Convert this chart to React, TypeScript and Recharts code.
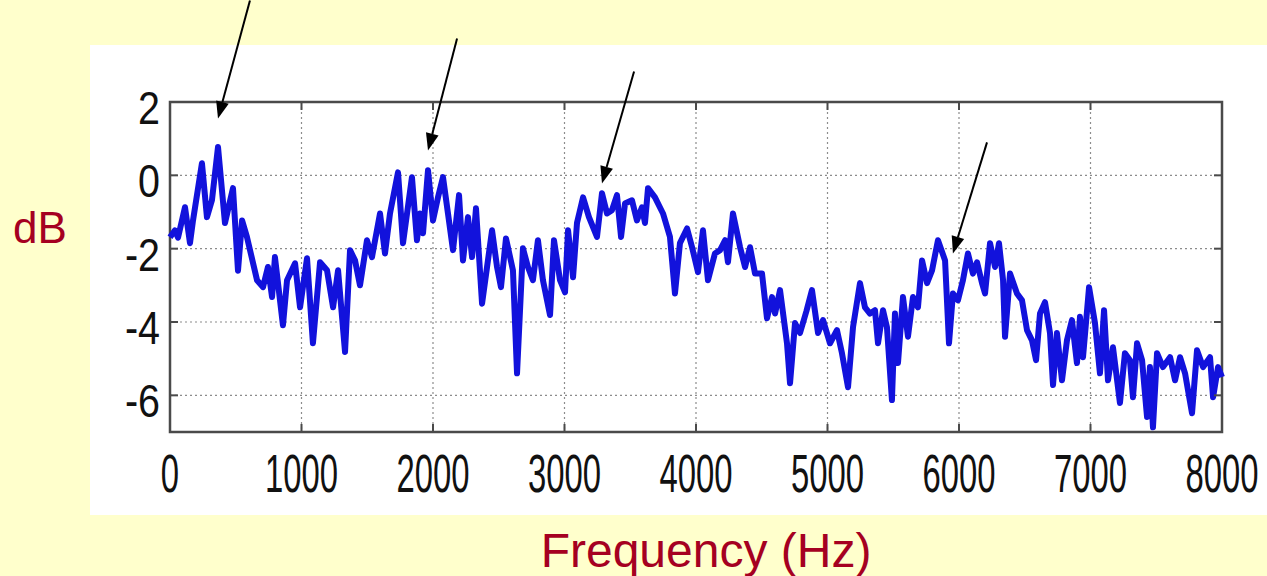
import { LineChart, Line, XAxis, YAxis, CartesianGrid, ReferenceArea, ReferenceLine } from 'recharts';

// Spectrum samples: frequency (Hz) and level (dB)
const freqHz = [
  0, 38, 61, 114, 152, 175, 243, 281, 319, 365, 418, 479, 517, 548, 585, 662, 707, 745, 776, 798,
  859, 890, 951, 989, 1042, 1087, 1141, 1194, 1240, 1278, 1331, 1369, 1407, 1445, 1498, 1536, 1597, 1635, 1673, 1734,
  1772, 1840, 1878, 1901, 1924, 1962, 2000, 2038, 2076, 2114, 2152, 2198, 2228, 2266, 2297, 2327, 2373, 2411, 2449, 2487,
  2517, 2555, 2608, 2639, 2684, 2722, 2760, 2798, 2836, 2890, 2920, 2966, 3004, 3027, 3065, 3095, 3141, 3186, 3247, 3285,
  3323, 3361, 3399, 3430, 3460, 3513, 3551, 3589, 3612, 3635, 3688, 3749, 3802, 3840, 3878, 3932, 3970, 4015, 4053, 4091,
  4144, 4183, 4221, 4243, 4281, 4335, 4373, 4411, 4449, 4502, 4540, 4578, 4601, 4639, 4692, 4715, 4753, 4791, 4840, 4882,
  4928, 4966, 5019, 5072, 5110, 5156, 5194, 5247, 5285, 5323, 5361, 5384, 5422, 5452, 5490, 5513, 5536, 5574, 5612, 5650,
  5688, 5719, 5757, 5795, 5840, 5894, 5924, 5954, 5992, 6030, 6068, 6106, 6137, 6175, 6198, 6236, 6274, 6304, 6335, 6350,
  6388, 6441, 6479, 6517, 6555, 6586, 6616, 6654, 6692, 6715, 6745, 6783, 6821, 6859, 6897, 6920, 6943, 6989, 7034, 7072,
  7103, 7133, 7171, 7224, 7262, 7300, 7323, 7354, 7392, 7430, 7452, 7475, 7506, 7551, 7605, 7643, 7681, 7719, 7772, 7810,
  7856, 7909, 7932, 7970, 8000,
];

const levelDb = [
  -1.69, -1.5, -1.7, -0.87, -1.85, -1.23, 0.33, -1.14, -0.68, 0.77, -1.3, -0.35, -2.6, -1.23, -1.68, -2.86, -3.05, -2.5, -3.32, -2.23,
  -4.09, -2.86, -2.4, -3.6, -2.26, -4.58, -2.37, -2.59, -3.6, -2.59, -4.82, -2.04, -2.32, -3.0, -1.77, -2.23, -1.04, -2.13, -1.04, 0.08,
  -1.85, -0.05, -1.77, -1.04, -1.58, 0.14, -1.23, -0.6, -0.05, -1.04, -2.04, -0.54, -2.32, -1.14, -2.23, -0.9, -3.5, -2.5, -1.5, -2.5,
  -3.05, -1.72, -2.59, -5.4, -1.99, -2.5, -2.86, -1.77, -2.86, -3.81, -1.77, -2.86, -3.19, -1.5, -2.78, -1.3, -0.6, -1.14, -1.68, -0.49,
  -1.04, -0.95, -0.54, -1.68, -0.77, -0.68, -1.23, -0.87, -1.3, -0.35, -0.6, -1.04, -1.68, -3.22, -1.85, -1.45, -1.96, -2.64, -1.5, -2.86,
  -2.13, -2.04, -1.77, -2.37, -1.04, -1.96, -2.5, -1.96, -2.68, -2.68, -3.9, -3.32, -3.77, -3.13, -4.58, -5.67, -4.03, -4.3, -3.7, -3.13,
  -4.3, -3.95, -4.58, -4.22, -4.85, -5.78, -4.14, -2.94, -3.6, -3.77, -3.68, -4.58, -3.68, -4.14, -6.13, -3.77, -5.12, -3.32, -4.4, -3.32,
  -3.6, -2.32, -2.94, -2.59, -1.77, -2.32, -4.58, -3.22, -3.41, -2.86, -2.13, -2.68, -2.37, -2.94, -3.22, -1.85, -2.5, -1.85, -2.86, -4.4,
  -2.68, -3.22, -3.41, -4.22, -4.5, -5.04, -3.77, -3.46, -4.3, -5.72, -4.3, -5.59, -4.5, -3.95, -5.12, -3.86, -4.96, -3.05, -4.03, -5.4,
  -3.68, -5.59, -4.69, -6.21, -4.85, -5.04, -6.05, -4.58, -5.04, -6.59, -5.23, -6.87, -4.85, -5.23, -4.96, -5.59, -4.96, -5.4, -6.49, -4.77,
  -5.23, -4.96, -6.05, -5.23, -5.5,
];

const xTicks = [0, 1000, 2000, 3000, 4000, 5000, 6000, 7000, 8000];
const yTicks = [-6, -4, -2, 0, 2];

// Formant pointers: tip sits just above each peak, tail further up and to the right
const formantHz = [365, 1962, 3285, 5954];
const pointerTipDb = [1.55, 0.68, -0.22, -2.13];
const pointerTailHz = [608, 2183, 3529, 6213];
const pointerTailDb = [4.77, 3.73, 2.83, 0.9];

const spectrum = freqHz.map((f, i) => ({ f, db: levelDb[i] }));

const W = 1267;
const H = 576;
const PLOT = { left: 170, top: 102, right: 1222, bottom: 432 };
const XAXIS_H = 80;
const YAXIS_W = 80;
const TICK_LEN = 8;
const BOX_COLOR = '#4a4a4a';
const LABEL_RED = '#a50021';
const FONT = '"Liberation Sans", Arial, Helvetica, sans-serif';

// tick digits are tall and condensed, so the glyphs are squeezed horizontally
function XTick(props: any) {
  const { x, payload } = props;
  return (
    <g>
      <line x1={x} x2={x} y1={PLOT.bottom} y2={PLOT.bottom - TICK_LEN} stroke={BOX_COLOR} strokeWidth={2} />
      <line x1={x} x2={x} y1={PLOT.top} y2={PLOT.top + TICK_LEN} stroke={BOX_COLOR} strokeWidth={2} />
      <text
        transform={`translate(${x},492) scale(0.62,1)`}
        textAnchor="middle"
        fontSize={53}
        fontFamily={FONT}
        fill="#111"
      >
        {String(payload.value)}
      </text>
    </g>
  );
}

function YTick(props: any) {
  const { y, payload } = props;
  return (
    <g>
      <line x1={PLOT.left} x2={PLOT.left + TICK_LEN} y1={y} y2={y} stroke={BOX_COLOR} strokeWidth={2} />
      <line x1={PLOT.right} x2={PLOT.right - TICK_LEN} y1={y} y2={y} stroke={BOX_COLOR} strokeWidth={2} />
      <text
        transform={`translate(160,${y + 22}) scale(0.84,1)`}
        textAnchor="end"
        fontSize={47}
        fontFamily={FONT}
        fill="#111"
      >
        {String(payload.value)}
      </text>
    </g>
  );
}

// black pointer with a filled head at the second point
function Pointer(props: any) {
  const { x1, y1, x2, y2 } = props;
  const dx = x2 - x1;
  const dy = y2 - y1;
  const len = Math.sqrt(dx * dx + dy * dy) || 1;
  const ux = dx / len;
  const uy = dy / len;
  const headLen = 17;
  const headHalf = 6.5;
  const bx = x2 - ux * headLen;
  const by = y2 - uy * headLen;
  const pts = [
    `${x2},${y2}`,
    `${bx - uy * headHalf},${by + ux * headHalf}`,
    `${bx + uy * headHalf},${by - ux * headHalf}`,
  ].join(' ');
  return (
    <g>
      <line x1={x1} y1={y1} x2={bx} y2={by} stroke="#000" strokeWidth={2} />
      <polygon points={pts} fill="#000" />
    </g>
  );
}

export default function App() {
  return (
    <div
      style={{
        position: 'fixed',
        left: 0,
        top: 0,
        width: W,
        height: H,
        background: '#ffffcc',
        overflow: 'hidden',
      }}
    >
      <div style={{ position: 'absolute', left: 90, top: 45, width: W - 90, height: 470, background: '#fff' }} />
      <div style={{ position: 'absolute', left: 0, top: 0 }}>
        <LineChart
          width={W}
          height={H}
          data={spectrum}
          margin={{
            top: PLOT.top,
            right: W - PLOT.right,
            bottom: H - PLOT.bottom - XAXIS_H,
            left: PLOT.left - YAXIS_W,
          }}
        >
          <CartesianGrid stroke="#8c8c8c" strokeDasharray="2 3" strokeWidth={1.2} />
          <XAxis
            dataKey="f"
            type="number"
            domain={[0, 8000]}
            ticks={xTicks}
            interval={0}
            height={XAXIS_H}
            axisLine={false}
            tickLine={false}
            tickSize={0}
            tickMargin={0}
            tick={XTick}
          />
          <YAxis
            type="number"
            domain={[-7, 2]}
            ticks={yTicks}
            interval={0}
            width={YAXIS_W}
            axisLine={false}
            tickLine={false}
            tickSize={0}
            tickMargin={0}
            tick={YTick}
            allowDataOverflow
          />
          <ReferenceArea x1={0} x2={8000} y1={-7} y2={2} fill="none" stroke={BOX_COLOR} strokeWidth={2.5} />
          <Line
            type="linear"
            dataKey="db"
            stroke="#1212dc"
            strokeWidth={6}
            strokeLinejoin="round"
            dot={false}
            isAnimationActive={false}
          />
          {formantHz.map((f, i) => (
            <ReferenceLine
              key={f}
              segment={[
                { x: pointerTailHz[i], y: pointerTailDb[i] },
                { x: f, y: pointerTipDb[i] },
              ]}
              ifOverflow="visible"
              shape={Pointer}
            />
          ))}
        </LineChart>
      </div>
      <svg
        width={W}
        height={H}
        style={{ position: 'absolute', left: 0, top: 0, pointerEvents: 'none' }}
      >
        <text x={13} y={243} fontSize={44} fontFamily={FONT} fill={LABEL_RED}>
          dB
        </text>
        <text x={706} y={567} fontSize={48} fontFamily={FONT} fill={LABEL_RED} textAnchor="middle">
          Frequency (Hz)
        </text>
      </svg>
    </div>
  );
}
